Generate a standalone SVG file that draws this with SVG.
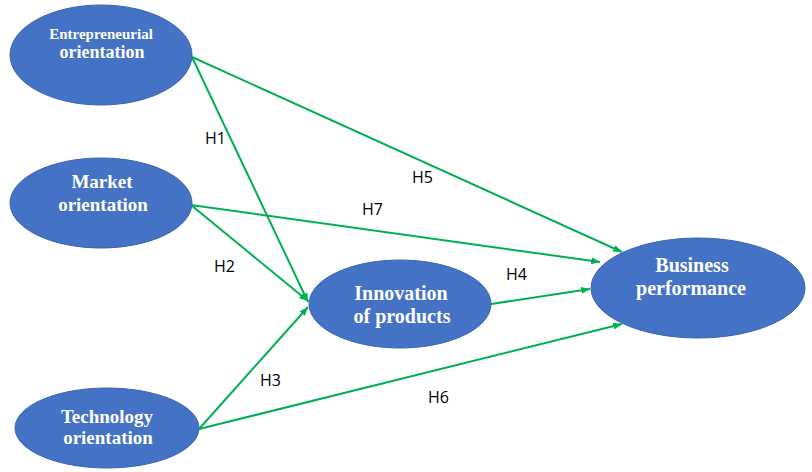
<svg xmlns="http://www.w3.org/2000/svg" width="812" height="472" viewBox="0 0 812 472">
<style>
.node ellipse{fill:#4472C4;stroke:#3B64AD;stroke-width:1}
.node text{fill:#fff;font-family:"Liberation Serif","Times New Roman",serif;font-weight:bold;text-anchor:middle}
.edges line{stroke:#00B050;stroke-width:2;fill:none}
.lbl{font-family:"Open Sans","Noto Sans",sans-serif;font-size:16px;fill:#000}
</style>
<defs>
<marker id="ah" viewBox="0 0 10 8" refX="10" refY="4" markerWidth="9" markerHeight="7" markerUnits="userSpaceOnUse" orient="auto">
<path d="M0,0 L10,4 L0,8 Z" fill="#00B050"/>
</marker>
</defs>
<rect width="812" height="472" fill="#fff"/>
<g class="edges">
<line x1="192" y1="57" x2="622" y2="252" marker-end="url(#ah)"/>
<line x1="192" y1="57" x2="308" y2="302" marker-end="url(#ah)"/>
<line x1="191" y1="205" x2="600" y2="262" marker-end="url(#ah)"/>
<line x1="191" y1="205" x2="308" y2="301" marker-end="url(#ah)"/>
<line x1="199" y1="429" x2="308" y2="307" marker-end="url(#ah)"/>
<line x1="199" y1="429" x2="622" y2="324" marker-end="url(#ah)"/>
<line x1="491" y1="304" x2="590" y2="289" marker-end="url(#ah)"/>
</g>
<g id="labels">
<text class="lbl" x="205" y="144">H1</text>
<text class="lbl" x="412" y="183">H5</text>
<text class="lbl" x="362" y="215">H7</text>
<text class="lbl" x="214" y="272">H2</text>
<text class="lbl" x="506" y="280">H4</text>
<text class="lbl" x="260" y="386">H3</text>
<text class="lbl" x="428" y="403">H6</text>
</g>
<g id="entrepreneurial" class="node">
<ellipse cx="101" cy="55" rx="91" ry="50"/>
<text x="101" y="39" font-size="15">Entrepreneurial</text>
<text x="102" y="58" font-size="18">orientation</text>
</g>
<g id="market" class="node">
<ellipse cx="101" cy="203" rx="91" ry="45"/>
<text x="102" y="188" font-size="19">Market</text>
<text x="103" y="211" font-size="19">orientation</text>
</g>
<g id="technology" class="node">
<ellipse cx="107" cy="428" rx="92" ry="40"/>
<text x="107" y="423" font-size="19">Technology</text>
<text x="108" y="444" font-size="19">orientation</text>
</g>
<g id="innovation" class="node">
<ellipse cx="400" cy="304" rx="91" ry="44"/>
<text x="401" y="300" font-size="20">Innovation</text>
<text x="402" y="323" font-size="20">of products</text>
</g>
<g id="business" class="node">
<ellipse cx="698" cy="288" rx="107" ry="50"/>
<text x="692" y="272" font-size="20">Business</text>
<text x="691" y="295" font-size="20">performance</text>
</g>
</svg>
